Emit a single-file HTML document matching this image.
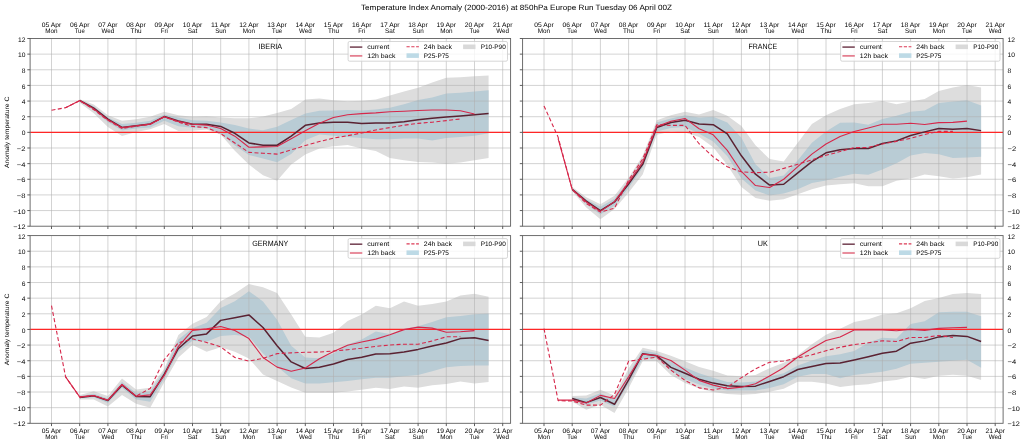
<!DOCTYPE html><html><head><meta charset="utf-8"><style>html,body{margin:0;padding:0;background:#fff;}svg{display:block;will-change:transform;}text{font-family:"Liberation Sans", sans-serif;text-rendering:geometricPrecision;}</style></head><body>
<svg width="1024" height="445" viewBox="0 0 1024 445">
<rect width="1024" height="445" fill="#fff"/>
<text x="516.50" y="10.30" font-size="7.67" text-anchor="middle" fill="#000" textLength="310.88" lengthAdjust="spacingAndGlyphs">Temperature Index Anomaly (2000-2016) at 850hPa Europe Run Tuesday 06 April 00Z</text>
<clipPath id="c00"><rect x="30.1" y="38.5" width="480.5" height="187.7"/></clipPath>
<g clip-path="url(#c00)">
<polygon points="79.7,99.27 93.8,104.59 107.9,115.14 122,120.78 136.1,119.21 150.2,116.86 164.3,111.86 178.4,115.14 192.5,116.71 206.6,116.16 220.7,117.41 234.8,118.27 248.9,118.27 263,116.55 277.1,113.11 291.2,108.89 305.3,99.58 319.4,98.41 333.5,100.28 347.6,101.22 361.7,100.75 375.8,99.58 389.9,95.59 404,91.45 418.1,87.77 432.2,82.53 446.3,77.84 460.4,77.37 474.5,76.2 488.6,75.49 488.6,157.92 474.5,160.27 460.4,162.62 446.3,163.63 432.2,162.62 418.1,162.07 404,160.27 389.9,157.92 375.8,150.89 361.7,148.54 347.6,145.1 333.5,146.27 319.4,148.54 305.3,154.4 291.2,164.42 277.1,180.84 263,175.36 248.9,164.42 234.8,150.73 220.7,134.46 206.6,129.38 192.5,130.79 178.4,130.94 164.3,123.9 150.2,129.22 136.1,132.12 122,135.95 107.9,126.88 93.8,113.35 79.7,102.79" fill="#dddddd"/>
<polygon points="79.7,99.89 93.8,106.31 107.9,117.49 122,123.9 136.1,122.73 150.2,120.78 164.3,114.52 178.4,117.49 192.5,120.31 206.6,120.78 220.7,122.5 234.8,125.08 248.9,128.52 263,130.24 277.1,126.8 291.2,119.91 305.3,113.58 319.4,110.76 333.5,110.53 347.6,110.06 361.7,110.53 375.8,109.59 389.9,107.71 404,104.2 418.1,100.05 432.2,97.47 446.3,93.48 460.4,92.78 474.5,91.53 488.6,90.35 488.6,133.37 474.5,135.71 460.4,136.89 446.3,138.06 432.2,140.41 418.1,138.61 404,138.53 389.9,139.23 375.8,139.23 361.7,138.06 347.6,136.89 333.5,135.71 319.4,134.62 305.3,140.17 291.2,154.09 277.1,162.3 263,158.39 248.9,154.95 234.8,145.57 220.7,133.6 206.6,127.66 192.5,127.66 178.4,126.25 164.3,120.78 150.2,127.42 136.1,128.6 122,130.39 107.9,122.18 93.8,110.45 79.7,101.61" fill="#b9ccd5"/>
<path d="M51.5 38.5V226.2M79.7 38.5V226.2M107.9 38.5V226.2M136.1 38.5V226.2M164.3 38.5V226.2M192.5 38.5V226.2M220.7 38.5V226.2M248.9 38.5V226.2M277.1 38.5V226.2M305.3 38.5V226.2M333.5 38.5V226.2M361.7 38.5V226.2M389.9 38.5V226.2M418.1 38.5V226.2M446.3 38.5V226.2M474.5 38.5V226.2M502.7 38.5V226.2M30.1 210.56H510.6M30.1 194.92H510.6M30.1 179.28H510.6M30.1 163.63H510.6M30.1 147.99H510.6M30.1 132.35H510.6M30.1 116.71H510.6M30.1 101.07H510.6M30.1 85.42H510.6M30.1 69.78H510.6M30.1 54.14H510.6" stroke="#b0b0b0" stroke-opacity="0.62" stroke-width="0.9" fill="none"/>
<path d="M30.1 132.35H510.6" stroke="#ff2626" stroke-width="1.3" fill="none"/>
<polyline points="79.7,100.44 93.8,108.11 107.9,119.21 122,127.42 136.1,125.7 150.2,123.9 164.3,116.55 178.4,121.01 192.5,124.22 206.6,124.22 220.7,126.41 234.8,133.29 248.9,142.99 263,145.25 277.1,145.25 291.2,136.18 305.3,125.31 319.4,122.97 333.5,122.18 347.6,122.18 361.7,123.59 375.8,123.12 389.9,122.97 404,121.71 418.1,119.84 432.2,118.27 446.3,117.1 460.4,115.93 474.5,114.75 488.6,113.58" fill="none" stroke="#5a2232" stroke-width="1.5" stroke-linejoin="round"/>
<polyline points="65.6,107.64 79.7,100.44 93.8,108.89 107.9,119.84 122,127.66 136.1,125.7 150.2,124.14 164.3,116.71 178.4,121.4 192.5,124.22 206.6,125.08 220.7,128.52 234.8,136.18 248.9,147.29 263,146.9 277.1,146.43 291.2,138.76 305.3,130.79 319.4,123.36 333.5,117.57 347.6,114.75 361.7,113.58 375.8,112.88 389.9,111.7 404,111.23 418.1,110.53 432.2,110.06 446.3,110.06 460.4,110.76 474.5,114.05" fill="none" stroke="#d6274a" stroke-width="1.1" stroke-linejoin="round"/>
<polyline points="51.5,110.3 65.6,107.64 79.7,100.68 93.8,109.67 107.9,120.38 122,128.6 136.1,126.25 150.2,124.29 164.3,116.86 178.4,122.18 192.5,126.41 206.6,127.66 220.7,133.6 234.8,142.99 248.9,152.37 263,153.23 277.1,154.09 291.2,149.87 305.3,145.57 319.4,141.58 333.5,138.14 347.6,135.71 361.7,132.98 375.8,129.93 389.9,127.58 404,125.23 418.1,123.36 432.2,122.18 446.3,120.62 460.4,118.98" fill="none" stroke="#d6274a" stroke-width="1.1" stroke-dasharray="4 2.4" stroke-linejoin="round"/>
</g>
<rect x="30.1" y="38.5" width="480.5" height="187.7" fill="none" stroke="#5e5e5e" stroke-width="0.9"/>
<path d="M51.5 226.2v2.8M79.7 226.2v2.8M107.9 226.2v2.8M136.1 226.2v2.8M164.3 226.2v2.8M192.5 226.2v2.8M220.7 226.2v2.8M248.9 226.2v2.8M277.1 226.2v2.8M305.3 226.2v2.8M333.5 226.2v2.8M361.7 226.2v2.8M389.9 226.2v2.8M418.1 226.2v2.8M446.3 226.2v2.8M474.5 226.2v2.8M502.7 226.2v2.8M30.1 226.2h-2.8M30.1 210.56h-2.8M30.1 194.92h-2.8M30.1 179.28h-2.8M30.1 163.63h-2.8M30.1 147.99h-2.8M30.1 132.35h-2.8M30.1 116.71h-2.8M30.1 101.07h-2.8M30.1 85.42h-2.8M30.1 69.78h-2.8M30.1 54.14h-2.8M30.1 38.5h-2.8" stroke="#4d4d4d" stroke-width="0.9" fill="none"/>
<text x="25.50" y="229.30" font-size="6.55" text-anchor="end" fill="#000" textLength="12.35" lengthAdjust="spacingAndGlyphs">−12</text>
<text x="25.50" y="213.66" font-size="6.55" text-anchor="end" fill="#000" textLength="12.35" lengthAdjust="spacingAndGlyphs">−10</text>
<text x="25.50" y="198.02" font-size="6.55" text-anchor="end" fill="#000" textLength="8.62" lengthAdjust="spacingAndGlyphs">−8</text>
<text x="25.50" y="182.38" font-size="6.55" text-anchor="end" fill="#000" textLength="8.62" lengthAdjust="spacingAndGlyphs">−6</text>
<text x="25.50" y="166.73" font-size="6.55" text-anchor="end" fill="#000" textLength="8.62" lengthAdjust="spacingAndGlyphs">−4</text>
<text x="25.50" y="151.09" font-size="6.55" text-anchor="end" fill="#000" textLength="8.62" lengthAdjust="spacingAndGlyphs">−2</text>
<text x="25.50" y="135.45" font-size="6.55" text-anchor="end" fill="#000" textLength="3.72" lengthAdjust="spacingAndGlyphs">0</text>
<text x="25.50" y="119.81" font-size="6.55" text-anchor="end" fill="#000" textLength="3.72" lengthAdjust="spacingAndGlyphs">2</text>
<text x="25.50" y="104.17" font-size="6.55" text-anchor="end" fill="#000" textLength="3.72" lengthAdjust="spacingAndGlyphs">4</text>
<text x="25.50" y="88.52" font-size="6.55" text-anchor="end" fill="#000" textLength="3.72" lengthAdjust="spacingAndGlyphs">6</text>
<text x="25.50" y="72.88" font-size="6.55" text-anchor="end" fill="#000" textLength="3.72" lengthAdjust="spacingAndGlyphs">8</text>
<text x="25.50" y="57.24" font-size="6.55" text-anchor="end" fill="#000" textLength="7.44" lengthAdjust="spacingAndGlyphs">10</text>
<text x="25.50" y="41.60" font-size="6.55" text-anchor="end" fill="#000" textLength="7.44" lengthAdjust="spacingAndGlyphs">12</text>
<text x="51.50" y="26.60" font-size="6.55" text-anchor="middle" fill="#000" textLength="19.42" lengthAdjust="spacingAndGlyphs">05 Apr</text>
<text x="51.50" y="33.20" font-size="6.55" text-anchor="middle" fill="#000" textLength="12.33" lengthAdjust="spacingAndGlyphs">Mon</text>
<text x="79.70" y="26.60" font-size="6.55" text-anchor="middle" fill="#000" textLength="19.42" lengthAdjust="spacingAndGlyphs">06 Apr</text>
<text x="79.70" y="33.20" font-size="6.55" text-anchor="middle" fill="#000" textLength="9.99" lengthAdjust="spacingAndGlyphs">Tue</text>
<text x="107.90" y="26.60" font-size="6.55" text-anchor="middle" fill="#000" textLength="19.42" lengthAdjust="spacingAndGlyphs">07 Apr</text>
<text x="107.90" y="33.20" font-size="6.55" text-anchor="middle" fill="#000" textLength="12.75" lengthAdjust="spacingAndGlyphs">Wed</text>
<text x="136.10" y="26.60" font-size="6.55" text-anchor="middle" fill="#000" textLength="19.42" lengthAdjust="spacingAndGlyphs">08 Apr</text>
<text x="136.10" y="33.20" font-size="6.55" text-anchor="middle" fill="#000" textLength="10.99" lengthAdjust="spacingAndGlyphs">Thu</text>
<text x="164.30" y="26.60" font-size="6.55" text-anchor="middle" fill="#000" textLength="19.42" lengthAdjust="spacingAndGlyphs">09 Apr</text>
<text x="164.30" y="33.20" font-size="6.55" text-anchor="middle" fill="#000" textLength="6.97" lengthAdjust="spacingAndGlyphs">Fri</text>
<text x="192.50" y="26.60" font-size="6.55" text-anchor="middle" fill="#000" textLength="19.42" lengthAdjust="spacingAndGlyphs">10 Apr</text>
<text x="192.50" y="33.20" font-size="6.55" text-anchor="middle" fill="#000" textLength="9.59" lengthAdjust="spacingAndGlyphs">Sat</text>
<text x="220.70" y="26.60" font-size="6.55" text-anchor="middle" fill="#000" textLength="19.42" lengthAdjust="spacingAndGlyphs">11 Apr</text>
<text x="220.70" y="33.20" font-size="6.55" text-anchor="middle" fill="#000" textLength="11.13" lengthAdjust="spacingAndGlyphs">Sun</text>
<text x="248.90" y="26.60" font-size="6.55" text-anchor="middle" fill="#000" textLength="19.42" lengthAdjust="spacingAndGlyphs">12 Apr</text>
<text x="248.90" y="33.20" font-size="6.55" text-anchor="middle" fill="#000" textLength="12.33" lengthAdjust="spacingAndGlyphs">Mon</text>
<text x="277.10" y="26.60" font-size="6.55" text-anchor="middle" fill="#000" textLength="19.42" lengthAdjust="spacingAndGlyphs">13 Apr</text>
<text x="277.10" y="33.20" font-size="6.55" text-anchor="middle" fill="#000" textLength="9.99" lengthAdjust="spacingAndGlyphs">Tue</text>
<text x="305.30" y="26.60" font-size="6.55" text-anchor="middle" fill="#000" textLength="19.42" lengthAdjust="spacingAndGlyphs">14 Apr</text>
<text x="305.30" y="33.20" font-size="6.55" text-anchor="middle" fill="#000" textLength="12.75" lengthAdjust="spacingAndGlyphs">Wed</text>
<text x="333.50" y="26.60" font-size="6.55" text-anchor="middle" fill="#000" textLength="19.42" lengthAdjust="spacingAndGlyphs">15 Apr</text>
<text x="333.50" y="33.20" font-size="6.55" text-anchor="middle" fill="#000" textLength="10.99" lengthAdjust="spacingAndGlyphs">Thu</text>
<text x="361.70" y="26.60" font-size="6.55" text-anchor="middle" fill="#000" textLength="19.42" lengthAdjust="spacingAndGlyphs">16 Apr</text>
<text x="361.70" y="33.20" font-size="6.55" text-anchor="middle" fill="#000" textLength="6.97" lengthAdjust="spacingAndGlyphs">Fri</text>
<text x="389.90" y="26.60" font-size="6.55" text-anchor="middle" fill="#000" textLength="19.42" lengthAdjust="spacingAndGlyphs">17 Apr</text>
<text x="389.90" y="33.20" font-size="6.55" text-anchor="middle" fill="#000" textLength="9.59" lengthAdjust="spacingAndGlyphs">Sat</text>
<text x="418.10" y="26.60" font-size="6.55" text-anchor="middle" fill="#000" textLength="19.42" lengthAdjust="spacingAndGlyphs">18 Apr</text>
<text x="418.10" y="33.20" font-size="6.55" text-anchor="middle" fill="#000" textLength="11.13" lengthAdjust="spacingAndGlyphs">Sun</text>
<text x="446.30" y="26.60" font-size="6.55" text-anchor="middle" fill="#000" textLength="19.42" lengthAdjust="spacingAndGlyphs">19 Apr</text>
<text x="446.30" y="33.20" font-size="6.55" text-anchor="middle" fill="#000" textLength="12.33" lengthAdjust="spacingAndGlyphs">Mon</text>
<text x="474.50" y="26.60" font-size="6.55" text-anchor="middle" fill="#000" textLength="19.42" lengthAdjust="spacingAndGlyphs">20 Apr</text>
<text x="474.50" y="33.20" font-size="6.55" text-anchor="middle" fill="#000" textLength="9.99" lengthAdjust="spacingAndGlyphs">Tue</text>
<text x="502.70" y="26.60" font-size="6.55" text-anchor="middle" fill="#000" textLength="19.42" lengthAdjust="spacingAndGlyphs">21 Apr</text>
<text x="502.70" y="33.20" font-size="6.55" text-anchor="middle" fill="#000" textLength="12.75" lengthAdjust="spacingAndGlyphs">Wed</text>
<text x="270.35" y="49.10" font-size="7.63" text-anchor="middle" fill="#000" textLength="23.66" lengthAdjust="spacingAndGlyphs">IBERIA</text>
<rect x="348.1" y="41.5" width="159.4" height="19.7" rx="1.5" fill="#fff" fill-opacity="0.8" stroke="#cccccc" stroke-width="0.8"/>
<path d="M349.9 47.1h12.4" stroke="#7a4a5a" stroke-width="1.6"/>
<path d="M349.9 55.9h12.4" stroke="#e0687c" stroke-width="1.5"/>
<path d="M406.5 46.8h12.4" stroke="#dc3a55" stroke-width="1.1" stroke-dasharray="3.2 1.6"/>
<rect x="406.5" y="53.3" width="12.4" height="4.6" fill="#bddae6"/>
<rect x="463.1" y="44.5" width="12.4" height="4.6" fill="#d9d9d9"/>
<text x="367.30" y="49.00" font-size="6.47" text-anchor="start" fill="#000" textLength="22.01" lengthAdjust="spacingAndGlyphs">current</text>
<text x="367.30" y="57.80" font-size="6.47" text-anchor="start" fill="#000" textLength="28.06" lengthAdjust="spacingAndGlyphs">12h back</text>
<text x="423.80" y="49.00" font-size="6.47" text-anchor="start" fill="#000" textLength="28.06" lengthAdjust="spacingAndGlyphs">24h back</text>
<text x="423.80" y="57.80" font-size="6.47" text-anchor="start" fill="#000" textLength="25.08" lengthAdjust="spacingAndGlyphs">P25-P75</text>
<text x="480.70" y="49.00" font-size="6.47" text-anchor="start" fill="#000" textLength="25.08" lengthAdjust="spacingAndGlyphs">P10-P90</text>
<clipPath id="c10"><rect x="522.6" y="38.5" width="480.5" height="187.7"/></clipPath>
<g clip-path="url(#c10)">
<polygon points="572.2,187.02 586.3,197.26 600.4,204.3 614.5,195.7 628.6,177.71 642.7,155.81 656.8,120.23 670.9,115.3 685,111.7 699.1,114.6 713.2,110.06 727.3,115.69 741.4,126.09 755.5,145.25 769.6,159.1 783.7,161.6 797.8,142.75 811.9,123.9 826,115.14 840.1,108.89 854.2,104.2 868.3,102.94 882.4,100.91 896.5,104.2 910.6,101.61 924.7,99.03 938.8,90.9 952.9,87.54 967,84.96 981.1,87.54 981.1,174.58 967,177.32 952.9,178.49 938.8,176.15 924.7,174.58 910.6,178.49 896.5,180.84 882.4,186.31 868.3,186.31 854.2,183.19 840.1,184.28 826,185.53 811.9,189.29 797.8,194.37 783.7,199.37 769.6,200.63 755.5,198.12 741.4,187.1 727.3,165.12 713.2,147.21 699.1,137.04 685,132.58 670.9,131.41 656.8,134.77 642.7,174.58 628.6,192.57 614.5,208.99 600.4,219.16 586.3,207.43 572.2,191.24" fill="#dddddd"/>
<polygon points="572.2,188.27 586.3,199.61 600.4,206.65 614.5,198.83 628.6,180.84 642.7,159.72 656.8,122.5 670.9,118.43 685,115.3 699.1,117.49 713.2,116.86 727.3,122.5 741.4,137.82 755.5,164.18 769.6,178.02 783.7,175.44 797.8,160.35 811.9,142.75 826,131.41 840.1,122.65 854.2,122.42 868.3,124.69 882.4,119.05 896.5,115.77 910.6,111.86 924.7,110.61 938.8,102.94 952.9,101.61 967,100.36 981.1,105.52 981.1,156.75 967,157.53 952.9,158.08 938.8,154.25 924.7,152.92 910.6,155.5 896.5,163.16 882.4,169.58 868.3,174.66 854.2,173.8 840.1,176.69 826,180.53 811.9,183.03 797.8,189.29 783.7,193.59 769.6,195.54 755.5,190.54 741.4,178.49 727.3,156.13 713.2,141.5 699.1,133.68 685,126.95 670.9,128.05 656.8,131.41 642.7,167.54 628.6,187.88 614.5,205.87 600.4,214.47 586.3,204.3 572.2,190.22" fill="#b9ccd5"/>
<path d="M544 38.5V226.2M572.2 38.5V226.2M600.4 38.5V226.2M628.6 38.5V226.2M656.8 38.5V226.2M685 38.5V226.2M713.2 38.5V226.2M741.4 38.5V226.2M769.6 38.5V226.2M797.8 38.5V226.2M826 38.5V226.2M854.2 38.5V226.2M882.4 38.5V226.2M910.6 38.5V226.2M938.8 38.5V226.2M967 38.5V226.2M995.2 38.5V226.2M522.6 210.56H1003.1M522.6 194.92H1003.1M522.6 179.28H1003.1M522.6 163.63H1003.1M522.6 147.99H1003.1M522.6 132.35H1003.1M522.6 116.71H1003.1M522.6 101.07H1003.1M522.6 85.42H1003.1M522.6 69.78H1003.1M522.6 54.14H1003.1" stroke="#b0b0b0" stroke-opacity="0.62" stroke-width="0.9" fill="none"/>
<path d="M522.6 132.35H1003.1" stroke="#ff2626" stroke-width="1.3" fill="none"/>
<polyline points="572.2,189.36 586.3,201.17 600.4,210.56 614.5,201.96 628.6,183.97 642.7,164.42 656.8,127.42 670.9,122.42 685,120.23 699.1,123.98 713.2,124.69 727.3,133.91 741.4,155.81 755.5,174.19 769.6,185.06 783.7,184.28 797.8,172.94 811.9,161.6 826,152.84 840.1,149.79 854.2,148.54 868.3,148.54 882.4,143.46 896.5,140.87 910.6,135.48 924.7,131.88 938.8,128.52 952.9,129.3 967,128.52 981.1,130.63" fill="none" stroke="#5a2232" stroke-width="1.5" stroke-linejoin="round"/>
<polyline points="558.1,138.53 572.2,189.36 586.3,201.96 600.4,211.34 614.5,201.64 628.6,182.4 642.7,162.07 656.8,126.48 670.9,121.32 685,118.43 699.1,128.75 713.2,134.77 727.3,150.34 741.4,171.45 755.5,185.53 769.6,187.57 783.7,179.28 797.8,166.68 811.9,154.09 826,144 840.1,136.5 854.2,131.57 868.3,128.05 882.4,124.22 896.5,124.22 910.6,123.2 924.7,124.53 938.8,122.65 952.9,122.42 967,121.09" fill="none" stroke="#d6274a" stroke-width="1.1" stroke-linejoin="round"/>
<polyline points="544,105.92 558.1,137.12 572.2,189.44 586.3,203.52 600.4,212.12 614.5,208.21 628.6,180.06 642.7,158.94 656.8,124.69 670.9,125.39 685,125.39 699.1,143.77 713.2,156.91 727.3,166.76 741.4,171.85 755.5,172.63 769.6,172.24 783.7,168.4 797.8,164.18 811.9,159.88 826,155.34 840.1,151.59 854.2,147.6 868.3,147.44 882.4,143.92 896.5,141.34 910.6,138.29 924.7,134.46 938.8,131.41 952.9,131.41" fill="none" stroke="#d6274a" stroke-width="1.1" stroke-dasharray="4 2.4" stroke-linejoin="round"/>
</g>
<rect x="522.6" y="38.5" width="480.5" height="187.7" fill="none" stroke="#5e5e5e" stroke-width="0.9"/>
<path d="M544 226.2v2.8M572.2 226.2v2.8M600.4 226.2v2.8M628.6 226.2v2.8M656.8 226.2v2.8M685 226.2v2.8M713.2 226.2v2.8M741.4 226.2v2.8M769.6 226.2v2.8M797.8 226.2v2.8M826 226.2v2.8M854.2 226.2v2.8M882.4 226.2v2.8M910.6 226.2v2.8M938.8 226.2v2.8M967 226.2v2.8M995.2 226.2v2.8M522.6 226.2h-2.8M522.6 210.56h-2.8M522.6 194.92h-2.8M522.6 179.28h-2.8M522.6 163.63h-2.8M522.6 147.99h-2.8M522.6 132.35h-2.8M522.6 116.71h-2.8M522.6 101.07h-2.8M522.6 85.42h-2.8M522.6 69.78h-2.8M522.6 54.14h-2.8M522.6 38.5h-2.8" stroke="#4d4d4d" stroke-width="0.9" fill="none"/>
<text x="1007.50" y="229.30" font-size="6.55" text-anchor="start" fill="#000" textLength="12.35" lengthAdjust="spacingAndGlyphs">−12</text>
<text x="1007.50" y="213.66" font-size="6.55" text-anchor="start" fill="#000" textLength="12.35" lengthAdjust="spacingAndGlyphs">−10</text>
<text x="1007.50" y="198.02" font-size="6.55" text-anchor="start" fill="#000" textLength="8.62" lengthAdjust="spacingAndGlyphs">−8</text>
<text x="1007.50" y="182.38" font-size="6.55" text-anchor="start" fill="#000" textLength="8.62" lengthAdjust="spacingAndGlyphs">−6</text>
<text x="1007.50" y="166.73" font-size="6.55" text-anchor="start" fill="#000" textLength="8.62" lengthAdjust="spacingAndGlyphs">−4</text>
<text x="1007.50" y="151.09" font-size="6.55" text-anchor="start" fill="#000" textLength="8.62" lengthAdjust="spacingAndGlyphs">−2</text>
<text x="1007.50" y="135.45" font-size="6.55" text-anchor="start" fill="#000" textLength="3.72" lengthAdjust="spacingAndGlyphs">0</text>
<text x="1007.50" y="119.81" font-size="6.55" text-anchor="start" fill="#000" textLength="3.72" lengthAdjust="spacingAndGlyphs">2</text>
<text x="1007.50" y="104.17" font-size="6.55" text-anchor="start" fill="#000" textLength="3.72" lengthAdjust="spacingAndGlyphs">4</text>
<text x="1007.50" y="88.52" font-size="6.55" text-anchor="start" fill="#000" textLength="3.72" lengthAdjust="spacingAndGlyphs">6</text>
<text x="1007.50" y="72.88" font-size="6.55" text-anchor="start" fill="#000" textLength="3.72" lengthAdjust="spacingAndGlyphs">8</text>
<text x="1007.50" y="57.24" font-size="6.55" text-anchor="start" fill="#000" textLength="7.44" lengthAdjust="spacingAndGlyphs">10</text>
<text x="1007.50" y="41.60" font-size="6.55" text-anchor="start" fill="#000" textLength="7.44" lengthAdjust="spacingAndGlyphs">12</text>
<text x="544.00" y="26.60" font-size="6.55" text-anchor="middle" fill="#000" textLength="19.42" lengthAdjust="spacingAndGlyphs">05 Apr</text>
<text x="544.00" y="33.20" font-size="6.55" text-anchor="middle" fill="#000" textLength="12.33" lengthAdjust="spacingAndGlyphs">Mon</text>
<text x="572.20" y="26.60" font-size="6.55" text-anchor="middle" fill="#000" textLength="19.42" lengthAdjust="spacingAndGlyphs">06 Apr</text>
<text x="572.20" y="33.20" font-size="6.55" text-anchor="middle" fill="#000" textLength="9.99" lengthAdjust="spacingAndGlyphs">Tue</text>
<text x="600.40" y="26.60" font-size="6.55" text-anchor="middle" fill="#000" textLength="19.42" lengthAdjust="spacingAndGlyphs">07 Apr</text>
<text x="600.40" y="33.20" font-size="6.55" text-anchor="middle" fill="#000" textLength="12.75" lengthAdjust="spacingAndGlyphs">Wed</text>
<text x="628.60" y="26.60" font-size="6.55" text-anchor="middle" fill="#000" textLength="19.42" lengthAdjust="spacingAndGlyphs">08 Apr</text>
<text x="628.60" y="33.20" font-size="6.55" text-anchor="middle" fill="#000" textLength="10.99" lengthAdjust="spacingAndGlyphs">Thu</text>
<text x="656.80" y="26.60" font-size="6.55" text-anchor="middle" fill="#000" textLength="19.42" lengthAdjust="spacingAndGlyphs">09 Apr</text>
<text x="656.80" y="33.20" font-size="6.55" text-anchor="middle" fill="#000" textLength="6.97" lengthAdjust="spacingAndGlyphs">Fri</text>
<text x="685.00" y="26.60" font-size="6.55" text-anchor="middle" fill="#000" textLength="19.42" lengthAdjust="spacingAndGlyphs">10 Apr</text>
<text x="685.00" y="33.20" font-size="6.55" text-anchor="middle" fill="#000" textLength="9.59" lengthAdjust="spacingAndGlyphs">Sat</text>
<text x="713.20" y="26.60" font-size="6.55" text-anchor="middle" fill="#000" textLength="19.42" lengthAdjust="spacingAndGlyphs">11 Apr</text>
<text x="713.20" y="33.20" font-size="6.55" text-anchor="middle" fill="#000" textLength="11.13" lengthAdjust="spacingAndGlyphs">Sun</text>
<text x="741.40" y="26.60" font-size="6.55" text-anchor="middle" fill="#000" textLength="19.42" lengthAdjust="spacingAndGlyphs">12 Apr</text>
<text x="741.40" y="33.20" font-size="6.55" text-anchor="middle" fill="#000" textLength="12.33" lengthAdjust="spacingAndGlyphs">Mon</text>
<text x="769.60" y="26.60" font-size="6.55" text-anchor="middle" fill="#000" textLength="19.42" lengthAdjust="spacingAndGlyphs">13 Apr</text>
<text x="769.60" y="33.20" font-size="6.55" text-anchor="middle" fill="#000" textLength="9.99" lengthAdjust="spacingAndGlyphs">Tue</text>
<text x="797.80" y="26.60" font-size="6.55" text-anchor="middle" fill="#000" textLength="19.42" lengthAdjust="spacingAndGlyphs">14 Apr</text>
<text x="797.80" y="33.20" font-size="6.55" text-anchor="middle" fill="#000" textLength="12.75" lengthAdjust="spacingAndGlyphs">Wed</text>
<text x="826.00" y="26.60" font-size="6.55" text-anchor="middle" fill="#000" textLength="19.42" lengthAdjust="spacingAndGlyphs">15 Apr</text>
<text x="826.00" y="33.20" font-size="6.55" text-anchor="middle" fill="#000" textLength="10.99" lengthAdjust="spacingAndGlyphs">Thu</text>
<text x="854.20" y="26.60" font-size="6.55" text-anchor="middle" fill="#000" textLength="19.42" lengthAdjust="spacingAndGlyphs">16 Apr</text>
<text x="854.20" y="33.20" font-size="6.55" text-anchor="middle" fill="#000" textLength="6.97" lengthAdjust="spacingAndGlyphs">Fri</text>
<text x="882.40" y="26.60" font-size="6.55" text-anchor="middle" fill="#000" textLength="19.42" lengthAdjust="spacingAndGlyphs">17 Apr</text>
<text x="882.40" y="33.20" font-size="6.55" text-anchor="middle" fill="#000" textLength="9.59" lengthAdjust="spacingAndGlyphs">Sat</text>
<text x="910.60" y="26.60" font-size="6.55" text-anchor="middle" fill="#000" textLength="19.42" lengthAdjust="spacingAndGlyphs">18 Apr</text>
<text x="910.60" y="33.20" font-size="6.55" text-anchor="middle" fill="#000" textLength="11.13" lengthAdjust="spacingAndGlyphs">Sun</text>
<text x="938.80" y="26.60" font-size="6.55" text-anchor="middle" fill="#000" textLength="19.42" lengthAdjust="spacingAndGlyphs">19 Apr</text>
<text x="938.80" y="33.20" font-size="6.55" text-anchor="middle" fill="#000" textLength="12.33" lengthAdjust="spacingAndGlyphs">Mon</text>
<text x="967.00" y="26.60" font-size="6.55" text-anchor="middle" fill="#000" textLength="19.42" lengthAdjust="spacingAndGlyphs">20 Apr</text>
<text x="967.00" y="33.20" font-size="6.55" text-anchor="middle" fill="#000" textLength="9.99" lengthAdjust="spacingAndGlyphs">Tue</text>
<text x="995.20" y="26.60" font-size="6.55" text-anchor="middle" fill="#000" textLength="19.42" lengthAdjust="spacingAndGlyphs">21 Apr</text>
<text x="995.20" y="33.20" font-size="6.55" text-anchor="middle" fill="#000" textLength="12.75" lengthAdjust="spacingAndGlyphs">Wed</text>
<text x="762.85" y="49.10" font-size="7.63" text-anchor="middle" fill="#000" textLength="28.74" lengthAdjust="spacingAndGlyphs">FRANCE</text>
<rect x="840.6" y="41.5" width="159.4" height="19.7" rx="1.5" fill="#fff" fill-opacity="0.8" stroke="#cccccc" stroke-width="0.8"/>
<path d="M842.4 47.1h12.4" stroke="#7a4a5a" stroke-width="1.6"/>
<path d="M842.4 55.9h12.4" stroke="#e0687c" stroke-width="1.5"/>
<path d="M899 46.8h12.4" stroke="#dc3a55" stroke-width="1.1" stroke-dasharray="3.2 1.6"/>
<rect x="899" y="53.3" width="12.4" height="4.6" fill="#bddae6"/>
<rect x="955.6" y="44.5" width="12.4" height="4.6" fill="#d9d9d9"/>
<text x="859.80" y="49.00" font-size="6.47" text-anchor="start" fill="#000" textLength="22.01" lengthAdjust="spacingAndGlyphs">current</text>
<text x="859.80" y="57.80" font-size="6.47" text-anchor="start" fill="#000" textLength="28.06" lengthAdjust="spacingAndGlyphs">12h back</text>
<text x="916.30" y="49.00" font-size="6.47" text-anchor="start" fill="#000" textLength="28.06" lengthAdjust="spacingAndGlyphs">24h back</text>
<text x="916.30" y="57.80" font-size="6.47" text-anchor="start" fill="#000" textLength="25.08" lengthAdjust="spacingAndGlyphs">P25-P75</text>
<text x="973.20" y="49.00" font-size="6.47" text-anchor="start" fill="#000" textLength="25.08" lengthAdjust="spacingAndGlyphs">P10-P90</text>
<clipPath id="c01"><rect x="30.1" y="235.6" width="480.5" height="187.7"/></clipPath>
<g clip-path="url(#c01)">
<polygon points="79.7,394.91 93.8,391.31 107.9,396.01 122,378.49 136.1,389.59 150.2,387.79 164.3,368.71 178.4,335 192.5,323.74 206.6,317.01 220.7,301.3 234.8,293.47 248.9,284.09 263,287.14 277.1,293.08 291.2,314.51 305.3,336.65 319.4,337.43 333.5,332.73 347.6,321 361.7,314.59 375.8,305.83 389.9,308.33 404,301.45 418.1,305.83 432.2,303.95 446.3,301.45 460.4,295.59 474.5,293.71 488.6,296.84 488.6,381.93 474.5,383.41 460.4,381.38 446.3,383.96 432.2,385.29 418.1,387.79 404,386.54 389.9,389.12 375.8,387.79 361.7,389.67 347.6,391.39 333.5,392.72 319.4,392.72 305.3,392.72 291.2,387.48 277.1,380.99 263,374.42 248.9,358.39 234.8,351.82 220.7,347.36 206.6,351.82 192.5,345.09 178.4,357.45 164.3,382.16 150.2,407.74 136.1,403.67 122,394.91 107.9,406.56 93.8,399.52 79.7,399.52" fill="#dddddd"/>
<polygon points="79.7,396.08 93.8,393.74 107.9,398.43 122,382.01 136.1,393.11 150.2,391.31 164.3,370.9 178.4,339.46 192.5,328.28 206.6,322.65 220.7,308.1 234.8,301.3 248.9,291.13 263,301.45 277.1,319.67 291.2,345.8 305.3,357.53 319.4,358.31 333.5,353.62 347.6,344.47 361.7,339.62 375.8,331.41 389.9,333.99 404,328.82 418.1,326.32 432.2,321.94 446.3,317.33 460.4,316.08 474.5,314.28 488.6,313.5 488.6,365.58 474.5,365.58 460.4,366.05 446.3,367.3 432.2,371.21 418.1,375.05 404,376.3 389.9,377.63 375.8,377.63 361.7,379.27 347.6,380.99 333.5,382.24 319.4,383.57 305.3,383.57 291.2,378.33 277.1,366.6 263,353.62 248.9,336.49 234.8,335 220.7,336.1 206.6,341.73 192.5,340.63 178.4,351.82 164.3,378.72 150.2,401.87 136.1,399.52 122,387.79 107.9,403.04 93.8,397.26 79.7,398.35" fill="#b9ccd5"/>
<path d="M51.5 235.6V423.3M79.7 235.6V423.3M107.9 235.6V423.3M136.1 235.6V423.3M164.3 235.6V423.3M192.5 235.6V423.3M220.7 235.6V423.3M248.9 235.6V423.3M277.1 235.6V423.3M305.3 235.6V423.3M333.5 235.6V423.3M361.7 235.6V423.3M389.9 235.6V423.3M418.1 235.6V423.3M446.3 235.6V423.3M474.5 235.6V423.3M502.7 235.6V423.3M30.1 407.66H510.6M30.1 392.02H510.6M30.1 376.38H510.6M30.1 360.73H510.6M30.1 345.09H510.6M30.1 329.45H510.6M30.1 313.81H510.6M30.1 298.17H510.6M30.1 282.52H510.6M30.1 266.88H510.6M30.1 251.24H510.6" stroke="#b0b0b0" stroke-opacity="0.62" stroke-width="0.9" fill="none"/>
<path d="M30.1 329.45H510.6" stroke="#ff2626" stroke-width="1.3" fill="none"/>
<polyline points="79.7,397.57 93.8,395.85 107.9,400.46 122,385.13 136.1,396.4 150.2,396.63 164.3,374.03 178.4,348.45 192.5,336.1 206.6,333.91 220.7,320.38 234.8,317.72 248.9,314.9 263,327.49 277.1,345.8 291.2,361.91 305.3,368.48 319.4,367.15 333.5,364.02 347.6,359.56 361.7,357.29 375.8,354.01 389.9,353.69 404,351.97 418.1,349.39 432.2,346.03 446.3,342.98 460.4,338.6 474.5,337.82 488.6,340.4" fill="none" stroke="#5a2232" stroke-width="1.5" stroke-linejoin="round"/>
<polyline points="65.6,376.84 79.7,396.87 93.8,395.46 107.9,400.15 122,384.35 136.1,396.32 150.2,394.91 164.3,375.44 178.4,346.26 192.5,330.47 206.6,328.9 220.7,326.48 234.8,330.47 248.9,338.6 263,357.53 277.1,367.15 291.2,371.29 305.3,367.93 319.4,358.78 333.5,351.5 347.6,345.25 361.7,341.96 375.8,339.15 389.9,334.77 404,329.61 418.1,327.1 432.2,328.12 446.3,332.19 460.4,331.72 474.5,330.62" fill="none" stroke="#d6274a" stroke-width="1.1" stroke-linejoin="round"/>
<polyline points="51.5,305.67 65.6,376.84 79.7,397.1 93.8,395.54 107.9,400.23 122,384.59 136.1,396.08 150.2,388.42 164.3,359.56 178.4,342.82 192.5,338.83 206.6,342.43 220.7,346.89 234.8,357.45 248.9,361.05 263,358.31 277.1,353.62 291.2,352.83 305.3,352.29 319.4,352.05 333.5,350.96 347.6,349.71 361.7,348.22 375.8,346.34 389.9,345.01 404,344.23 418.1,344.23 432.2,340.95 446.3,336.8 460.4,336.8" fill="none" stroke="#d6274a" stroke-width="1.1" stroke-dasharray="4 2.4" stroke-linejoin="round"/>
</g>
<rect x="30.1" y="235.6" width="480.5" height="187.7" fill="none" stroke="#5e5e5e" stroke-width="0.9"/>
<path d="M51.5 423.3v2.8M79.7 423.3v2.8M107.9 423.3v2.8M136.1 423.3v2.8M164.3 423.3v2.8M192.5 423.3v2.8M220.7 423.3v2.8M248.9 423.3v2.8M277.1 423.3v2.8M305.3 423.3v2.8M333.5 423.3v2.8M361.7 423.3v2.8M389.9 423.3v2.8M418.1 423.3v2.8M446.3 423.3v2.8M474.5 423.3v2.8M502.7 423.3v2.8M30.1 423.3h-2.8M30.1 407.66h-2.8M30.1 392.02h-2.8M30.1 376.38h-2.8M30.1 360.73h-2.8M30.1 345.09h-2.8M30.1 329.45h-2.8M30.1 313.81h-2.8M30.1 298.17h-2.8M30.1 282.52h-2.8M30.1 266.88h-2.8M30.1 251.24h-2.8M30.1 235.6h-2.8" stroke="#4d4d4d" stroke-width="0.9" fill="none"/>
<text x="25.50" y="426.40" font-size="6.55" text-anchor="end" fill="#000" textLength="12.35" lengthAdjust="spacingAndGlyphs">−12</text>
<text x="25.50" y="410.76" font-size="6.55" text-anchor="end" fill="#000" textLength="12.35" lengthAdjust="spacingAndGlyphs">−10</text>
<text x="25.50" y="395.12" font-size="6.55" text-anchor="end" fill="#000" textLength="8.62" lengthAdjust="spacingAndGlyphs">−8</text>
<text x="25.50" y="379.48" font-size="6.55" text-anchor="end" fill="#000" textLength="8.62" lengthAdjust="spacingAndGlyphs">−6</text>
<text x="25.50" y="363.83" font-size="6.55" text-anchor="end" fill="#000" textLength="8.62" lengthAdjust="spacingAndGlyphs">−4</text>
<text x="25.50" y="348.19" font-size="6.55" text-anchor="end" fill="#000" textLength="8.62" lengthAdjust="spacingAndGlyphs">−2</text>
<text x="25.50" y="332.55" font-size="6.55" text-anchor="end" fill="#000" textLength="3.72" lengthAdjust="spacingAndGlyphs">0</text>
<text x="25.50" y="316.91" font-size="6.55" text-anchor="end" fill="#000" textLength="3.72" lengthAdjust="spacingAndGlyphs">2</text>
<text x="25.50" y="301.27" font-size="6.55" text-anchor="end" fill="#000" textLength="3.72" lengthAdjust="spacingAndGlyphs">4</text>
<text x="25.50" y="285.62" font-size="6.55" text-anchor="end" fill="#000" textLength="3.72" lengthAdjust="spacingAndGlyphs">6</text>
<text x="25.50" y="269.98" font-size="6.55" text-anchor="end" fill="#000" textLength="3.72" lengthAdjust="spacingAndGlyphs">8</text>
<text x="25.50" y="254.34" font-size="6.55" text-anchor="end" fill="#000" textLength="7.44" lengthAdjust="spacingAndGlyphs">10</text>
<text x="25.50" y="238.70" font-size="6.55" text-anchor="end" fill="#000" textLength="7.44" lengthAdjust="spacingAndGlyphs">12</text>
<text x="51.50" y="432.70" font-size="6.55" text-anchor="middle" fill="#000" textLength="19.42" lengthAdjust="spacingAndGlyphs">05 Apr</text>
<text x="51.50" y="439.30" font-size="6.55" text-anchor="middle" fill="#000" textLength="12.33" lengthAdjust="spacingAndGlyphs">Mon</text>
<text x="79.70" y="432.70" font-size="6.55" text-anchor="middle" fill="#000" textLength="19.42" lengthAdjust="spacingAndGlyphs">06 Apr</text>
<text x="79.70" y="439.30" font-size="6.55" text-anchor="middle" fill="#000" textLength="9.99" lengthAdjust="spacingAndGlyphs">Tue</text>
<text x="107.90" y="432.70" font-size="6.55" text-anchor="middle" fill="#000" textLength="19.42" lengthAdjust="spacingAndGlyphs">07 Apr</text>
<text x="107.90" y="439.30" font-size="6.55" text-anchor="middle" fill="#000" textLength="12.75" lengthAdjust="spacingAndGlyphs">Wed</text>
<text x="136.10" y="432.70" font-size="6.55" text-anchor="middle" fill="#000" textLength="19.42" lengthAdjust="spacingAndGlyphs">08 Apr</text>
<text x="136.10" y="439.30" font-size="6.55" text-anchor="middle" fill="#000" textLength="10.99" lengthAdjust="spacingAndGlyphs">Thu</text>
<text x="164.30" y="432.70" font-size="6.55" text-anchor="middle" fill="#000" textLength="19.42" lengthAdjust="spacingAndGlyphs">09 Apr</text>
<text x="164.30" y="439.30" font-size="6.55" text-anchor="middle" fill="#000" textLength="6.97" lengthAdjust="spacingAndGlyphs">Fri</text>
<text x="192.50" y="432.70" font-size="6.55" text-anchor="middle" fill="#000" textLength="19.42" lengthAdjust="spacingAndGlyphs">10 Apr</text>
<text x="192.50" y="439.30" font-size="6.55" text-anchor="middle" fill="#000" textLength="9.59" lengthAdjust="spacingAndGlyphs">Sat</text>
<text x="220.70" y="432.70" font-size="6.55" text-anchor="middle" fill="#000" textLength="19.42" lengthAdjust="spacingAndGlyphs">11 Apr</text>
<text x="220.70" y="439.30" font-size="6.55" text-anchor="middle" fill="#000" textLength="11.13" lengthAdjust="spacingAndGlyphs">Sun</text>
<text x="248.90" y="432.70" font-size="6.55" text-anchor="middle" fill="#000" textLength="19.42" lengthAdjust="spacingAndGlyphs">12 Apr</text>
<text x="248.90" y="439.30" font-size="6.55" text-anchor="middle" fill="#000" textLength="12.33" lengthAdjust="spacingAndGlyphs">Mon</text>
<text x="277.10" y="432.70" font-size="6.55" text-anchor="middle" fill="#000" textLength="19.42" lengthAdjust="spacingAndGlyphs">13 Apr</text>
<text x="277.10" y="439.30" font-size="6.55" text-anchor="middle" fill="#000" textLength="9.99" lengthAdjust="spacingAndGlyphs">Tue</text>
<text x="305.30" y="432.70" font-size="6.55" text-anchor="middle" fill="#000" textLength="19.42" lengthAdjust="spacingAndGlyphs">14 Apr</text>
<text x="305.30" y="439.30" font-size="6.55" text-anchor="middle" fill="#000" textLength="12.75" lengthAdjust="spacingAndGlyphs">Wed</text>
<text x="333.50" y="432.70" font-size="6.55" text-anchor="middle" fill="#000" textLength="19.42" lengthAdjust="spacingAndGlyphs">15 Apr</text>
<text x="333.50" y="439.30" font-size="6.55" text-anchor="middle" fill="#000" textLength="10.99" lengthAdjust="spacingAndGlyphs">Thu</text>
<text x="361.70" y="432.70" font-size="6.55" text-anchor="middle" fill="#000" textLength="19.42" lengthAdjust="spacingAndGlyphs">16 Apr</text>
<text x="361.70" y="439.30" font-size="6.55" text-anchor="middle" fill="#000" textLength="6.97" lengthAdjust="spacingAndGlyphs">Fri</text>
<text x="389.90" y="432.70" font-size="6.55" text-anchor="middle" fill="#000" textLength="19.42" lengthAdjust="spacingAndGlyphs">17 Apr</text>
<text x="389.90" y="439.30" font-size="6.55" text-anchor="middle" fill="#000" textLength="9.59" lengthAdjust="spacingAndGlyphs">Sat</text>
<text x="418.10" y="432.70" font-size="6.55" text-anchor="middle" fill="#000" textLength="19.42" lengthAdjust="spacingAndGlyphs">18 Apr</text>
<text x="418.10" y="439.30" font-size="6.55" text-anchor="middle" fill="#000" textLength="11.13" lengthAdjust="spacingAndGlyphs">Sun</text>
<text x="446.30" y="432.70" font-size="6.55" text-anchor="middle" fill="#000" textLength="19.42" lengthAdjust="spacingAndGlyphs">19 Apr</text>
<text x="446.30" y="439.30" font-size="6.55" text-anchor="middle" fill="#000" textLength="12.33" lengthAdjust="spacingAndGlyphs">Mon</text>
<text x="474.50" y="432.70" font-size="6.55" text-anchor="middle" fill="#000" textLength="19.42" lengthAdjust="spacingAndGlyphs">20 Apr</text>
<text x="474.50" y="439.30" font-size="6.55" text-anchor="middle" fill="#000" textLength="9.99" lengthAdjust="spacingAndGlyphs">Tue</text>
<text x="502.70" y="432.70" font-size="6.55" text-anchor="middle" fill="#000" textLength="19.42" lengthAdjust="spacingAndGlyphs">21 Apr</text>
<text x="502.70" y="439.30" font-size="6.55" text-anchor="middle" fill="#000" textLength="12.75" lengthAdjust="spacingAndGlyphs">Wed</text>
<text x="270.35" y="246.20" font-size="7.63" text-anchor="middle" fill="#000" textLength="36.05" lengthAdjust="spacingAndGlyphs">GERMANY</text>
<rect x="348.1" y="238.6" width="159.4" height="19.7" rx="1.5" fill="#fff" fill-opacity="0.8" stroke="#cccccc" stroke-width="0.8"/>
<path d="M349.9 244.2h12.4" stroke="#7a4a5a" stroke-width="1.6"/>
<path d="M349.9 253h12.4" stroke="#e0687c" stroke-width="1.5"/>
<path d="M406.5 243.9h12.4" stroke="#dc3a55" stroke-width="1.1" stroke-dasharray="3.2 1.6"/>
<rect x="406.5" y="250.4" width="12.4" height="4.6" fill="#bddae6"/>
<rect x="463.1" y="241.6" width="12.4" height="4.6" fill="#d9d9d9"/>
<text x="367.30" y="246.10" font-size="6.47" text-anchor="start" fill="#000" textLength="22.01" lengthAdjust="spacingAndGlyphs">current</text>
<text x="367.30" y="254.90" font-size="6.47" text-anchor="start" fill="#000" textLength="28.06" lengthAdjust="spacingAndGlyphs">12h back</text>
<text x="423.80" y="246.10" font-size="6.47" text-anchor="start" fill="#000" textLength="28.06" lengthAdjust="spacingAndGlyphs">24h back</text>
<text x="423.80" y="254.90" font-size="6.47" text-anchor="start" fill="#000" textLength="25.08" lengthAdjust="spacingAndGlyphs">P25-P75</text>
<text x="480.70" y="246.10" font-size="6.47" text-anchor="start" fill="#000" textLength="25.08" lengthAdjust="spacingAndGlyphs">P10-P90</text>
<clipPath id="c11"><rect x="522.6" y="235.6" width="480.5" height="187.7"/></clipPath>
<g clip-path="url(#c11)">
<polygon points="572.2,396.01 586.3,395.38 600.4,389.83 614.5,395.38 628.6,368.55 642.7,347.83 656.8,350.96 670.9,355.81 685,361.2 699.1,366.99 713.2,370.82 727.3,375.59 741.4,376.3 755.5,374.89 769.6,368.16 783.7,362.69 797.8,355.34 811.9,344.23 826,334.85 840.1,328.82 854.2,322.02 868.3,319.28 882.4,314.59 896.5,313.18 910.6,308.18 924.7,301.06 938.8,298.01 952.9,293.94 967,293 981.1,293.94 981.1,379.89 967,375.83 952.9,374.81 938.8,375.83 924.7,378.88 910.6,376.84 896.5,379.89 882.4,381.46 868.3,384.35 854.2,385.21 840.1,386.93 826,383.49 811.9,381.77 797.8,381.77 783.7,388.65 769.6,391.63 755.5,394.05 741.4,394.75 727.3,394.05 713.2,392.02 699.1,388.58 685,383.1 670.9,374.89 656.8,361.2 642.7,361.2 628.6,388.18 614.5,412.98 600.4,404.69 586.3,409.85 572.2,401.64" fill="#dddddd"/>
<polygon points="572.2,397.49 586.3,398.51 600.4,393.35 614.5,399.52 628.6,373.72 642.7,350.57 656.8,353.07 670.9,361.2 685,367.38 699.1,373.25 713.2,377.63 727.3,382.01 741.4,382.4 755.5,381.46 769.6,376.38 783.7,373.25 797.8,365.58 811.9,360.42 826,356.2 840.1,354.16 854.2,351.04 868.3,342.51 882.4,337.82 896.5,338.44 910.6,323.9 924.7,321.32 938.8,312.24 952.9,311.77 967,311.77 981.1,316.23 981.1,367.77 967,359.72 952.9,360.73 938.8,361.75 924.7,362.69 910.6,363.71 896.5,368.79 882.4,371.68 868.3,373.25 854.2,374.97 840.1,378.33 826,374.11 811.9,374.11 797.8,376.69 783.7,384.35 769.6,388.11 755.5,390.61 741.4,390.61 727.3,390.61 713.2,388.58 699.1,384.51 685,379.03 670.9,370.82 656.8,357.84 642.7,358.7 628.6,384.04 614.5,406.8 600.4,400.62 586.3,404.69 572.2,399.52" fill="#b9ccd5"/>
<path d="M544 235.6V423.3M572.2 235.6V423.3M600.4 235.6V423.3M628.6 235.6V423.3M656.8 235.6V423.3M685 235.6V423.3M713.2 235.6V423.3M741.4 235.6V423.3M769.6 235.6V423.3M797.8 235.6V423.3M826 235.6V423.3M854.2 235.6V423.3M882.4 235.6V423.3M910.6 235.6V423.3M938.8 235.6V423.3M967 235.6V423.3M995.2 235.6V423.3M522.6 407.66H1003.1M522.6 392.02H1003.1M522.6 376.38H1003.1M522.6 360.73H1003.1M522.6 345.09H1003.1M522.6 329.45H1003.1M522.6 313.81H1003.1M522.6 298.17H1003.1M522.6 282.52H1003.1M522.6 266.88H1003.1M522.6 251.24H1003.1" stroke="#b0b0b0" stroke-opacity="0.62" stroke-width="0.9" fill="none"/>
<path d="M522.6 329.45H1003.1" stroke="#ff2626" stroke-width="1.3" fill="none"/>
<polyline points="572.2,398.51 586.3,402.65 600.4,397.49 614.5,404.3 628.6,379.89 642.7,353.69 656.8,355.81 670.9,367.38 685,373.25 699.1,379.27 713.2,383.1 727.3,385.84 741.4,386.54 755.5,386.15 769.6,381.46 783.7,376.69 797.8,369.49 811.9,366.44 826,363.47 840.1,363 854.2,359.95 868.3,356.67 882.4,353.15 896.5,351.19 910.6,343.14 924.7,340.87 938.8,336.88 952.9,335.47 967,336.41 981.1,341.49" fill="none" stroke="#5a2232" stroke-width="1.5" stroke-linejoin="round"/>
<polyline points="558.1,400.15 572.2,400.15 586.3,403.04 600.4,395.38 614.5,398.51 628.6,376.77 642.7,354.16 656.8,355.49 670.9,360.58 685,370.12 699.1,380.36 713.2,385.13 727.3,388.58 741.4,387.17 755.5,383.8 769.6,375.98 783.7,367.77 797.8,357.06 811.9,348.45 826,340.48 840.1,337.04 854.2,330 868.3,329.68 882.4,329.84 896.5,330.78 910.6,329.37 924.7,330.39 938.8,328.36 952.9,327.73 967,327.34" fill="none" stroke="#d6274a" stroke-width="1.1" stroke-linejoin="round"/>
<polyline points="544,328.67 558.1,400.62 572.2,401.01 586.3,405.16 600.4,405.16 614.5,394.36 628.6,361.28 642.7,359.17 656.8,357.14 670.9,370.12 685,380.36 699.1,387.87 713.2,389.98 727.3,387.17 741.4,377.63 755.5,368.79 769.6,362.3 783.7,360.97 797.8,357.92 811.9,354.79 826,350.72 840.1,347.28 854.2,344.54 868.3,342.82 882.4,340.79 896.5,341.49 910.6,337.43 924.7,337.43 938.8,335.47 952.9,337.43" fill="none" stroke="#d6274a" stroke-width="1.1" stroke-dasharray="4 2.4" stroke-linejoin="round"/>
</g>
<rect x="522.6" y="235.6" width="480.5" height="187.7" fill="none" stroke="#5e5e5e" stroke-width="0.9"/>
<path d="M544 423.3v2.8M572.2 423.3v2.8M600.4 423.3v2.8M628.6 423.3v2.8M656.8 423.3v2.8M685 423.3v2.8M713.2 423.3v2.8M741.4 423.3v2.8M769.6 423.3v2.8M797.8 423.3v2.8M826 423.3v2.8M854.2 423.3v2.8M882.4 423.3v2.8M910.6 423.3v2.8M938.8 423.3v2.8M967 423.3v2.8M995.2 423.3v2.8M522.6 423.3h-2.8M522.6 407.66h-2.8M522.6 392.02h-2.8M522.6 376.38h-2.8M522.6 360.73h-2.8M522.6 345.09h-2.8M522.6 329.45h-2.8M522.6 313.81h-2.8M522.6 298.17h-2.8M522.6 282.52h-2.8M522.6 266.88h-2.8M522.6 251.24h-2.8M522.6 235.6h-2.8" stroke="#4d4d4d" stroke-width="0.9" fill="none"/>
<text x="1007.50" y="426.40" font-size="6.55" text-anchor="start" fill="#000" textLength="12.35" lengthAdjust="spacingAndGlyphs">−12</text>
<text x="1007.50" y="410.76" font-size="6.55" text-anchor="start" fill="#000" textLength="12.35" lengthAdjust="spacingAndGlyphs">−10</text>
<text x="1007.50" y="395.12" font-size="6.55" text-anchor="start" fill="#000" textLength="8.62" lengthAdjust="spacingAndGlyphs">−8</text>
<text x="1007.50" y="379.48" font-size="6.55" text-anchor="start" fill="#000" textLength="8.62" lengthAdjust="spacingAndGlyphs">−6</text>
<text x="1007.50" y="363.83" font-size="6.55" text-anchor="start" fill="#000" textLength="8.62" lengthAdjust="spacingAndGlyphs">−4</text>
<text x="1007.50" y="348.19" font-size="6.55" text-anchor="start" fill="#000" textLength="8.62" lengthAdjust="spacingAndGlyphs">−2</text>
<text x="1007.50" y="332.55" font-size="6.55" text-anchor="start" fill="#000" textLength="3.72" lengthAdjust="spacingAndGlyphs">0</text>
<text x="1007.50" y="316.91" font-size="6.55" text-anchor="start" fill="#000" textLength="3.72" lengthAdjust="spacingAndGlyphs">2</text>
<text x="1007.50" y="301.27" font-size="6.55" text-anchor="start" fill="#000" textLength="3.72" lengthAdjust="spacingAndGlyphs">4</text>
<text x="1007.50" y="285.62" font-size="6.55" text-anchor="start" fill="#000" textLength="3.72" lengthAdjust="spacingAndGlyphs">6</text>
<text x="1007.50" y="269.98" font-size="6.55" text-anchor="start" fill="#000" textLength="3.72" lengthAdjust="spacingAndGlyphs">8</text>
<text x="1007.50" y="254.34" font-size="6.55" text-anchor="start" fill="#000" textLength="7.44" lengthAdjust="spacingAndGlyphs">10</text>
<text x="1007.50" y="238.70" font-size="6.55" text-anchor="start" fill="#000" textLength="7.44" lengthAdjust="spacingAndGlyphs">12</text>
<text x="544.00" y="432.70" font-size="6.55" text-anchor="middle" fill="#000" textLength="19.42" lengthAdjust="spacingAndGlyphs">05 Apr</text>
<text x="544.00" y="439.30" font-size="6.55" text-anchor="middle" fill="#000" textLength="12.33" lengthAdjust="spacingAndGlyphs">Mon</text>
<text x="572.20" y="432.70" font-size="6.55" text-anchor="middle" fill="#000" textLength="19.42" lengthAdjust="spacingAndGlyphs">06 Apr</text>
<text x="572.20" y="439.30" font-size="6.55" text-anchor="middle" fill="#000" textLength="9.99" lengthAdjust="spacingAndGlyphs">Tue</text>
<text x="600.40" y="432.70" font-size="6.55" text-anchor="middle" fill="#000" textLength="19.42" lengthAdjust="spacingAndGlyphs">07 Apr</text>
<text x="600.40" y="439.30" font-size="6.55" text-anchor="middle" fill="#000" textLength="12.75" lengthAdjust="spacingAndGlyphs">Wed</text>
<text x="628.60" y="432.70" font-size="6.55" text-anchor="middle" fill="#000" textLength="19.42" lengthAdjust="spacingAndGlyphs">08 Apr</text>
<text x="628.60" y="439.30" font-size="6.55" text-anchor="middle" fill="#000" textLength="10.99" lengthAdjust="spacingAndGlyphs">Thu</text>
<text x="656.80" y="432.70" font-size="6.55" text-anchor="middle" fill="#000" textLength="19.42" lengthAdjust="spacingAndGlyphs">09 Apr</text>
<text x="656.80" y="439.30" font-size="6.55" text-anchor="middle" fill="#000" textLength="6.97" lengthAdjust="spacingAndGlyphs">Fri</text>
<text x="685.00" y="432.70" font-size="6.55" text-anchor="middle" fill="#000" textLength="19.42" lengthAdjust="spacingAndGlyphs">10 Apr</text>
<text x="685.00" y="439.30" font-size="6.55" text-anchor="middle" fill="#000" textLength="9.59" lengthAdjust="spacingAndGlyphs">Sat</text>
<text x="713.20" y="432.70" font-size="6.55" text-anchor="middle" fill="#000" textLength="19.42" lengthAdjust="spacingAndGlyphs">11 Apr</text>
<text x="713.20" y="439.30" font-size="6.55" text-anchor="middle" fill="#000" textLength="11.13" lengthAdjust="spacingAndGlyphs">Sun</text>
<text x="741.40" y="432.70" font-size="6.55" text-anchor="middle" fill="#000" textLength="19.42" lengthAdjust="spacingAndGlyphs">12 Apr</text>
<text x="741.40" y="439.30" font-size="6.55" text-anchor="middle" fill="#000" textLength="12.33" lengthAdjust="spacingAndGlyphs">Mon</text>
<text x="769.60" y="432.70" font-size="6.55" text-anchor="middle" fill="#000" textLength="19.42" lengthAdjust="spacingAndGlyphs">13 Apr</text>
<text x="769.60" y="439.30" font-size="6.55" text-anchor="middle" fill="#000" textLength="9.99" lengthAdjust="spacingAndGlyphs">Tue</text>
<text x="797.80" y="432.70" font-size="6.55" text-anchor="middle" fill="#000" textLength="19.42" lengthAdjust="spacingAndGlyphs">14 Apr</text>
<text x="797.80" y="439.30" font-size="6.55" text-anchor="middle" fill="#000" textLength="12.75" lengthAdjust="spacingAndGlyphs">Wed</text>
<text x="826.00" y="432.70" font-size="6.55" text-anchor="middle" fill="#000" textLength="19.42" lengthAdjust="spacingAndGlyphs">15 Apr</text>
<text x="826.00" y="439.30" font-size="6.55" text-anchor="middle" fill="#000" textLength="10.99" lengthAdjust="spacingAndGlyphs">Thu</text>
<text x="854.20" y="432.70" font-size="6.55" text-anchor="middle" fill="#000" textLength="19.42" lengthAdjust="spacingAndGlyphs">16 Apr</text>
<text x="854.20" y="439.30" font-size="6.55" text-anchor="middle" fill="#000" textLength="6.97" lengthAdjust="spacingAndGlyphs">Fri</text>
<text x="882.40" y="432.70" font-size="6.55" text-anchor="middle" fill="#000" textLength="19.42" lengthAdjust="spacingAndGlyphs">17 Apr</text>
<text x="882.40" y="439.30" font-size="6.55" text-anchor="middle" fill="#000" textLength="9.59" lengthAdjust="spacingAndGlyphs">Sat</text>
<text x="910.60" y="432.70" font-size="6.55" text-anchor="middle" fill="#000" textLength="19.42" lengthAdjust="spacingAndGlyphs">18 Apr</text>
<text x="910.60" y="439.30" font-size="6.55" text-anchor="middle" fill="#000" textLength="11.13" lengthAdjust="spacingAndGlyphs">Sun</text>
<text x="938.80" y="432.70" font-size="6.55" text-anchor="middle" fill="#000" textLength="19.42" lengthAdjust="spacingAndGlyphs">19 Apr</text>
<text x="938.80" y="439.30" font-size="6.55" text-anchor="middle" fill="#000" textLength="12.33" lengthAdjust="spacingAndGlyphs">Mon</text>
<text x="967.00" y="432.70" font-size="6.55" text-anchor="middle" fill="#000" textLength="19.42" lengthAdjust="spacingAndGlyphs">20 Apr</text>
<text x="967.00" y="439.30" font-size="6.55" text-anchor="middle" fill="#000" textLength="9.99" lengthAdjust="spacingAndGlyphs">Tue</text>
<text x="995.20" y="432.70" font-size="6.55" text-anchor="middle" fill="#000" textLength="19.42" lengthAdjust="spacingAndGlyphs">21 Apr</text>
<text x="995.20" y="439.30" font-size="6.55" text-anchor="middle" fill="#000" textLength="12.75" lengthAdjust="spacingAndGlyphs">Wed</text>
<text x="762.85" y="246.20" font-size="7.63" text-anchor="middle" fill="#000" textLength="9.99" lengthAdjust="spacingAndGlyphs">UK</text>
<rect x="840.6" y="238.6" width="159.4" height="19.7" rx="1.5" fill="#fff" fill-opacity="0.8" stroke="#cccccc" stroke-width="0.8"/>
<path d="M842.4 244.2h12.4" stroke="#7a4a5a" stroke-width="1.6"/>
<path d="M842.4 253h12.4" stroke="#e0687c" stroke-width="1.5"/>
<path d="M899 243.9h12.4" stroke="#dc3a55" stroke-width="1.1" stroke-dasharray="3.2 1.6"/>
<rect x="899" y="250.4" width="12.4" height="4.6" fill="#bddae6"/>
<rect x="955.6" y="241.6" width="12.4" height="4.6" fill="#d9d9d9"/>
<text x="859.80" y="246.10" font-size="6.47" text-anchor="start" fill="#000" textLength="22.01" lengthAdjust="spacingAndGlyphs">current</text>
<text x="859.80" y="254.90" font-size="6.47" text-anchor="start" fill="#000" textLength="28.06" lengthAdjust="spacingAndGlyphs">12h back</text>
<text x="916.30" y="246.10" font-size="6.47" text-anchor="start" fill="#000" textLength="28.06" lengthAdjust="spacingAndGlyphs">24h back</text>
<text x="916.30" y="254.90" font-size="6.47" text-anchor="start" fill="#000" textLength="25.08" lengthAdjust="spacingAndGlyphs">P25-P75</text>
<text x="973.20" y="246.10" font-size="6.47" text-anchor="start" fill="#000" textLength="25.08" lengthAdjust="spacingAndGlyphs">P10-P90</text>
<g transform="translate(8.8 132.35) rotate(-90)"><text x="0.00" y="0.00" font-size="6.31" text-anchor="middle" fill="#000" textLength="71.44" lengthAdjust="spacingAndGlyphs">Anomaly temperature C</text></g>
<g transform="translate(8.8 329.45) rotate(-90)"><text x="0.00" y="0.00" font-size="6.31" text-anchor="middle" fill="#000" textLength="71.44" lengthAdjust="spacingAndGlyphs">Anomaly temperature C</text></g>
</svg></body></html>
